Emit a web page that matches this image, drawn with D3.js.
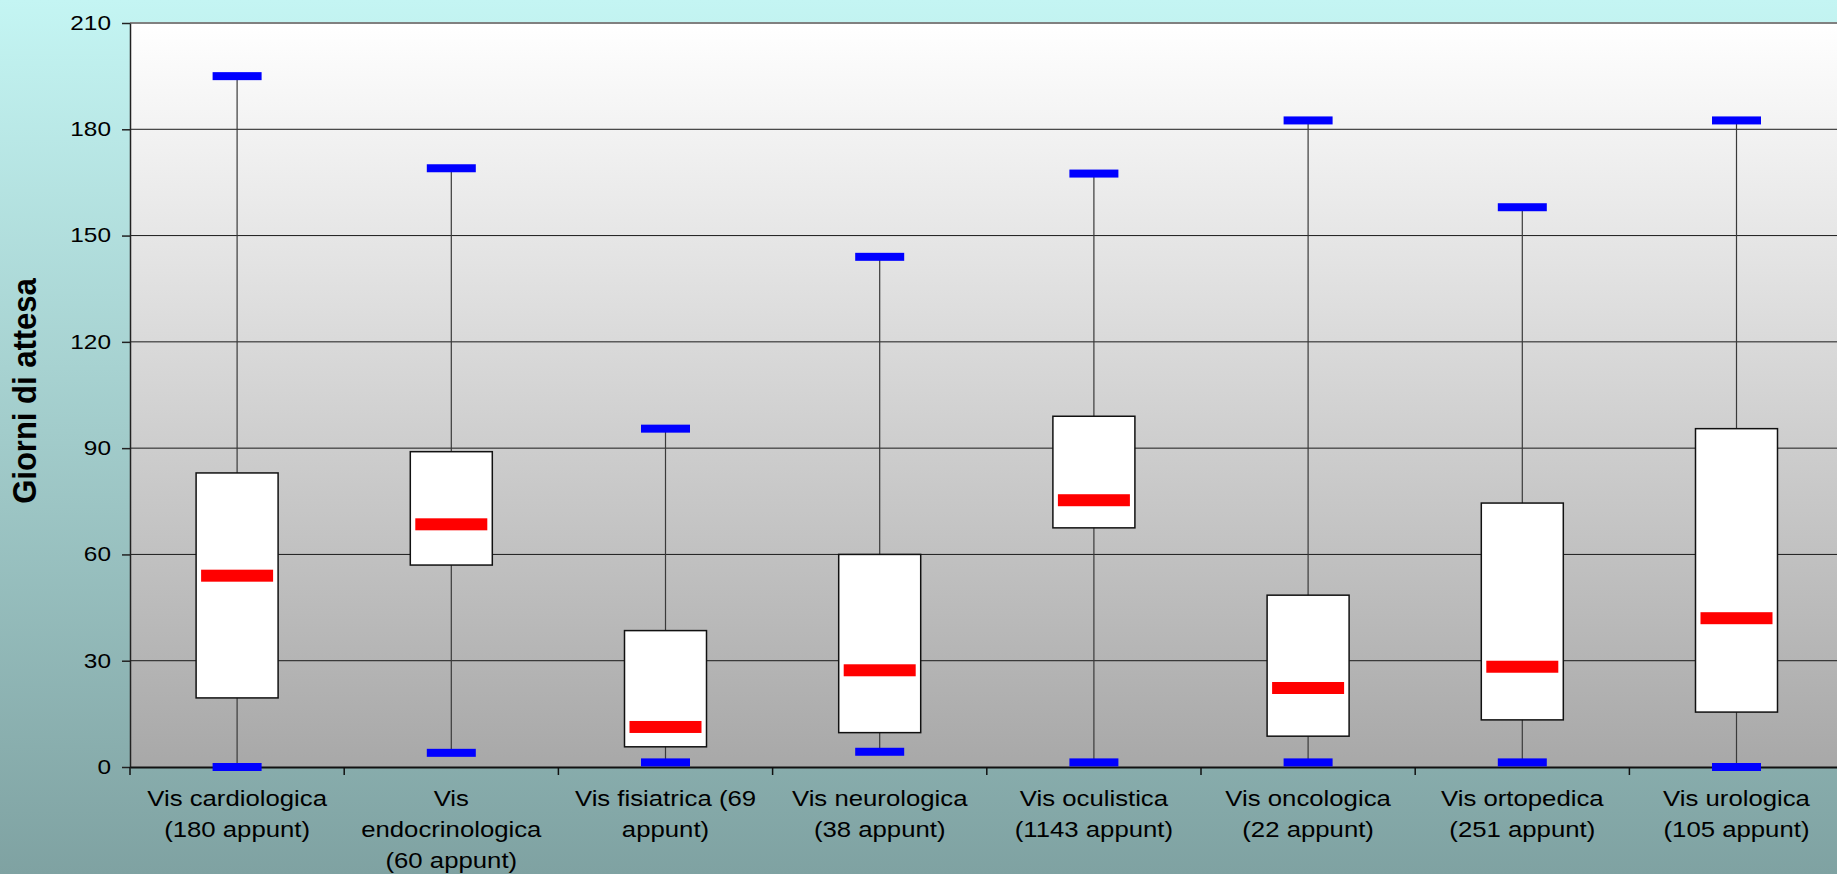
<!DOCTYPE html>
<html>
<head>
<meta charset="utf-8">
<script src="https://cdn.jsdelivr.net/npm/d3@7"></script>
<style>
  html, body { margin: 0; padding: 0; overflow: hidden; }
  svg { display: block; font-family: "Liberation Sans", Arial, sans-serif; }
</style>
</head>
<body>
<svg id="chart" width="1837" height="874"></svg>
<script>
// Waiting times (days) per outpatient visit type
const categories = ["cardiologica", "endocrinologica", "fisiatrica", "neurologica",
                    "oculistica", "oncologica", "ortopedica", "urologica"];
const categoryLabels = [
  ["Vis cardiologica", "(180 appunt)"],
  ["Vis", "endocrinologica", "(60 appunt)"],
  ["Vis fisiatrica (69", "appunt)"],
  ["Vis neurologica", "(38 appunt)"],
  ["Vis oculistica", "(1143 appunt)"],
  ["Vis oncologica", "(22 appunt)"],
  ["Vis ortopedica", "(251 appunt)"],
  ["Vis urologica", "(105 appunt)"]
];
const minValues    = [0,    4,    1.3,  4.3,  1.3,  1.3,  1.3,  0];
const q1Values     = [19.5, 57,   5.7,  9.7,  67.5, 8.7,  13.3, 15.5];
const medianValues = [54,   68.5, 11.3, 27.3, 75.3, 22.3, 28.3, 42];
const q3Values     = [83,   89,   38.5, 60,   99,   48.5, 74.5, 95.5];
const maxValues    = [195,  169,  95.5, 144,  167.5, 182.5, 158, 182.5];
const yTicks = [0, 30, 60, 90, 120, 150, 180, 210];
const yTitle = "Giorni di attesa";

const W = 1837, H = 874;
const plot = { left: 130, top: 23, bottom: 767, bandWidth: 214.2 };
plot.right = plot.left + plot.bandWidth * categories.length;

const svg = d3.select("#chart");
const defs = svg.append("defs");

const bgGrad = defs.append("linearGradient").attr("id", "bgGrad")
  .attr("x1", 0).attr("y1", 0).attr("x2", 0).attr("y2", 1);
bgGrad.append("stop").attr("offset", "0%").attr("stop-color", "#c4f5f3");
bgGrad.append("stop").attr("offset", "100%").attr("stop-color", "#7fa2a2");

const plotGrad = defs.append("linearGradient").attr("id", "plotGrad")
  .attr("x1", 0).attr("y1", 0).attr("x2", 0).attr("y2", 1);
plotGrad.append("stop").attr("offset", "0%").attr("stop-color", "#ffffff");
plotGrad.append("stop").attr("offset", "100%").attr("stop-color", "#a8a8a8");

svg.append("rect").attr("width", W).attr("height", H).attr("fill", "url(#bgGrad)");

const x = d3.scaleBand().domain(categories).range([plot.left, plot.right]).padding(0);
const y = d3.scaleLinear().domain([0, 210]).range([plot.bottom, plot.top]);

// plot area
svg.append("rect")
  .attr("x", plot.left).attr("y", plot.top)
  .attr("width", plot.right - plot.left).attr("height", plot.bottom - plot.top)
  .attr("fill", "url(#plotGrad)");

// horizontal grid lines
svg.append("g").selectAll("line").data(yTicks.filter(t => t > 0 && t < 210)).join("line")
  .attr("x1", plot.left).attr("x2", plot.right)
  .attr("y1", d => y(d)).attr("y2", d => y(d))
  .attr("stroke", "#1a1a1a").attr("stroke-width", 1);

// top border of plot area
svg.append("line")
  .attr("x1", plot.left).attr("x2", plot.right)
  .attr("y1", y(210)).attr("y2", y(210))
  .attr("stroke", "#808080").attr("stroke-width", 2);

// y axis (labels are drawn slightly wide, anchored at their right end)
const yAxis = svg.append("g").attr("transform", `translate(${plot.left},0)`)
  .call(d3.axisLeft(y).tickValues(yTicks).tickSize(8).tickPadding(12).tickSizeOuter(0));
yAxis.select(".domain").attr("stroke", "#222").attr("stroke-width", 1.5);
yAxis.selectAll(".tick line").attr("stroke", "#222").attr("stroke-width", 1.5);
yAxis.selectAll(".tick text")
  .attr("x", 0)
  .attr("transform", "translate(-19,0) scale(1.22,1)")
  .attr("font-size", 20).attr("fill", "#000")
  .attr("font-family", "Liberation Sans, Arial, sans-serif");

// y axis title
svg.append("text")
  .attr("transform", `translate(36,391) rotate(-90) scale(1,1.1)`)
  .attr("text-anchor", "middle")
  .attr("font-size", 31).attr("font-weight", "bold").attr("fill", "#000")
  .text(yTitle);

// whiskers
const groups = categories.map((c, i) => ({
  c, min: minValues[i], q1: q1Values[i], med: medianValues[i], q3: q3Values[i], max: maxValues[i]
}));
const cx = d => x(d.c) + x.bandwidth() / 2;

svg.append("g").selectAll("line").data(groups).join("line")
  .attr("x1", cx).attr("x2", cx)
  .attr("y1", d => y(d.max)).attr("y2", d => y(d.min))
  .attr("stroke", "#3a3a3a").attr("stroke-width", 1.2);

// boxes
const boxW = 82;
svg.append("g").selectAll("rect").data(groups).join("rect")
  .attr("x", d => cx(d) - boxW / 2).attr("width", boxW)
  .attr("y", d => y(d.q3)).attr("height", d => y(d.q1) - y(d.q3))
  .attr("fill", "#ffffff").attr("stroke", "#111").attr("stroke-width", 1.5);

// x axis
const xAxis = svg.append("g").attr("transform", `translate(0,${plot.bottom})`)
  .call(d3.axisBottom(x).tickSize(0).tickPadding(0).tickSizeOuter(0));
xAxis.select(".domain").attr("stroke", "#111").attr("stroke-width", 2);
xAxis.selectAll(".tick text").each(function (d, i) {
  const t = d3.select(this);
  t.text(null).attr("y", 0).attr("dy", null)
    .attr("transform", "scale(1.17,1)")
    .attr("font-size", 22).attr("fill", "#000")
    .attr("font-family", "Liberation Sans, Arial, sans-serif");
  categoryLabels[i].forEach((line, k) => {
    t.append("tspan").attr("x", 0).attr("y", 39 + k * 31).text(line);
  });
});
// category separator ticks
const bounds = categories.map(c => x(c)).concat([plot.right]);
svg.append("g").selectAll("line").data(bounds).join("line")
  .attr("x1", d => d).attr("x2", d => d)
  .attr("y1", plot.bottom).attr("y2", plot.bottom + 8)
  .attr("stroke", "#111").attr("stroke-width", 1.5);

// median markers
svg.append("g").selectAll("rect").data(groups).join("rect")
  .attr("x", d => cx(d) - 36).attr("width", 72)
  .attr("y", d => y(d.med) - 6).attr("height", 12)
  .attr("fill", "#ff0000");

// min / max caps
const caps = groups.flatMap(d => [{ c: d.c, v: d.min }, { c: d.c, v: d.max }]);
svg.append("g").selectAll("rect").data(caps).join("rect")
  .attr("x", d => cx(d) - 24.5).attr("width", 49)
  .attr("y", d => y(d.v) - 4).attr("height", 8)
  .attr("fill", "#0000ff");
</script>
</body>
</html>
